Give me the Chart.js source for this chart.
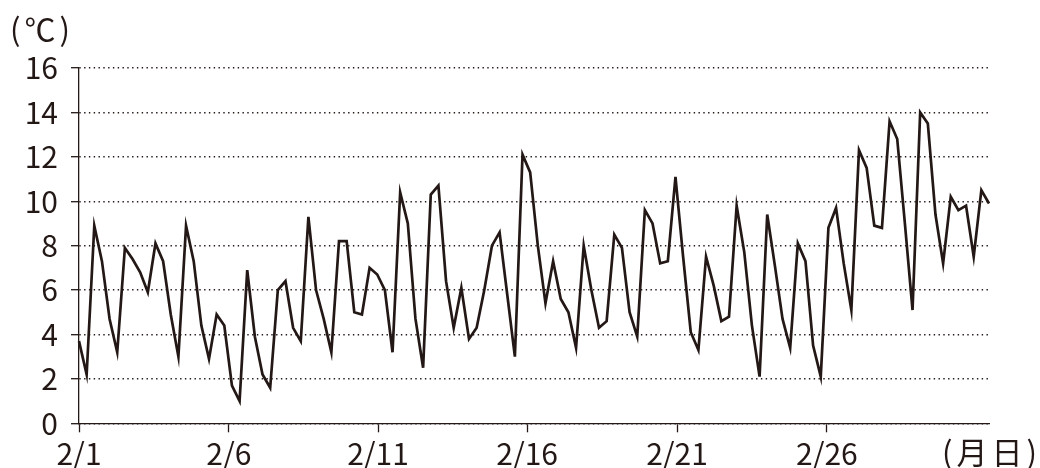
<!DOCTYPE html>
<html lang="ja">
<head>
<meta charset="utf-8">
<title>気温</title>
<script src="https://cdn.jsdelivr.net/npm/chart.js@4.4.1/dist/chart.umd.min.js"></script>
<style>
    html, body { margin: 0; padding: 0; background: #fff; }
    #wrap { width: 1040px; height: 468px; position: relative; }
</style>
</head>
<body>
<div id="wrap"><canvas id="temp-chart"></canvas></div>
<script>
// ========================== Datos (6時間ごとの気温)
const temps = [
    3.7, 2.2, 8.9, 7.3, 4.7, 3.2, 7.9, 7.4, 6.8, 5.9,
    8.1, 7.3, 4.9, 3.0, 8.9, 7.3, 4.4, 2.9, 4.9, 4.4,
    1.7, 1.0, 6.9, 3.9, 2.2, 1.6, 6.0, 6.4, 4.3, 3.7,
    9.3, 6.0, 4.7, 3.2, 8.2, 8.2, 5.0, 4.9, 7.0, 6.7,
    6.0, 3.2, 10.4, 9.0, 4.7, 2.5, 10.3, 10.7, 6.4, 4.3,
    6.1, 3.8, 4.3, 6.0, 8.0, 8.6, 5.8, 3.0, 12.1, 11.3,
    8.0, 5.4, 7.3, 5.6, 5.0, 3.4, 8.0, 6.0, 4.3, 4.6,
    8.5, 7.9, 5.0, 3.9, 9.6, 9.0, 7.2, 7.3, 11.1, 7.5,
    4.1, 3.3, 7.5, 6.2, 4.6, 4.8, 9.8, 7.7, 4.4, 2.1,
    9.4, 7.1, 4.7, 3.4, 8.1, 7.3, 3.5, 2.1, 8.8, 9.7,
    7.2, 5.1, 12.3, 11.5, 8.9, 8.8, 13.6, 12.8, 9.0, 5.1,
    14.0, 13.5, 9.4, 7.2, 10.2, 9.6, 9.8, 7.5, 10.5, 9.9
];
const xTickPos = [0, 19.6, 39.1, 58.6, 78.2, 97.8];
const xTickLabels = ["2/1", "2/6", "2/11", "2/16", "2/21", "2/26"];
const yTicks = [0, 2, 4, 6, 8, 10, 12, 14, 16];
const unitY = "(℃)";
const unitX = "(月日)";

const ink = "#231815";
const fontFamily = "'Noto Sans CJK JP', 'Noto Sans', sans-serif";

// ========================== Rótulos de unidades
const unitLabels = {
    id: "unitLabels",
    afterDraw(chart) {
        const c = chart.ctx;
        c.save();
        c.fillStyle = ink;
        c.font = "31px " + fontFamily;
        c.letterSpacing = "4px";
        c.textBaseline = "middle";
        c.textAlign = "left";
        c.fillText(unitY, 10, 29);
        c.textAlign = "right";
        c.fillText(unitX, 1041, 452);
        c.restore();
    }
};

const ctx = document.getElementById("temp-chart");
new Chart(ctx, {
    type: "line",
    data: {
        datasets: [{
            data: temps.map((v, i) => ({ x: i, y: v })),
            borderColor: ink,
            borderWidth: 2.7,
            pointRadius: 0,
            tension: 0,
            fill: false,
            clip: 6
        }]
    },
    options: {
        responsive: true,
        maintainAspectRatio: false,
        animation: false,
        layout: { padding: { left: 0, right: 51, top: 68, bottom: 0 } },
        plugins: {
            legend: { display: false },
            tooltip: { enabled: false }
        },
        scales: {
            x: {
                type: "linear",
                min: 0,
                max: temps.length - 1,
                afterBuildTicks: (scale) => {
                    scale.ticks = xTickPos.map(v => ({ value: v }));
                },
                afterFit: (scale) => { scale.height = 44.7; },
                ticks: {
                    autoSkip: false,
                    maxRotation: 0,
                    padding: 3,
                    color: ink,
                    font: { family: fontFamily, size: 30 },
                    callback: (value, index) => xTickLabels[index]
                },
                grid: {
                    drawOnChartArea: false,
                    drawTicks: true,
                    tickLength: 9,
                    tickColor: ink,
                    tickWidth: 1.3
                },
                border: { display: true, color: ink, width: 1.3 }
            },
            y: {
                min: 0,
                max: 16,
                afterBuildTicks: (scale) => {
                    scale.ticks = yTicks.map(v => ({ value: v }));
                },
                afterFit: (scale) => { scale.width = 79; },
                ticks: {
                    padding: 13,
                    color: ink,
                    font: { family: fontFamily, size: 30 }
                },
                grid: {
                    color: ink,
                    lineWidth: 1.4,
                    drawTicks: true,
                    tickLength: 8,
                    tickColor: ink,
                    tickWidth: 1.3,
                    tickBorderDash: []
                },
                border: { display: true, color: ink, width: 1.3, dash: [1.4, 3.4] }
            }
        }
    },
    plugins: [unitLabels]
});
</script>
</body>
</html>
